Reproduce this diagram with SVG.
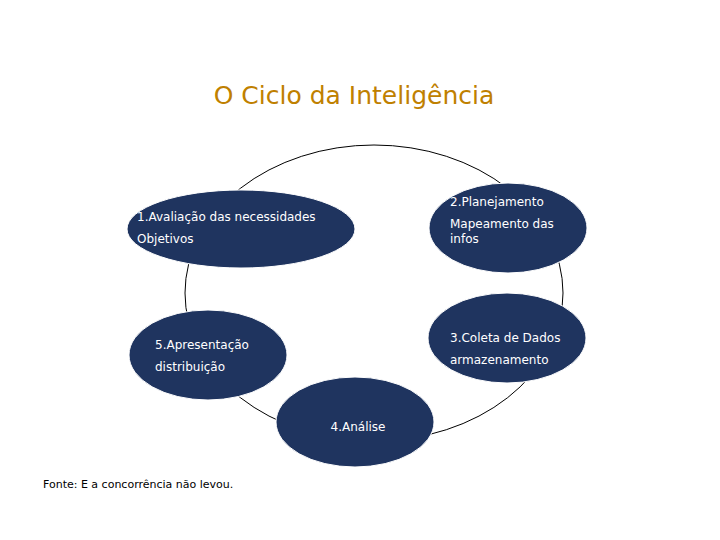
<svg xmlns="http://www.w3.org/2000/svg" width="720" height="540" viewBox="0 0 720 540">
<style>
.n{fill:#1f345f;stroke:#ffffff;stroke-width:1}
.t{font-family:"DejaVu Sans",Verdana,sans-serif;font-size:12px;fill:#ffffff}
</style>
<rect width="720" height="540" fill="#ffffff"/>
<text x="354" y="104" text-anchor="middle" font-family="DejaVu Sans, sans-serif" font-size="25" fill="#bf8000">O Ciclo da Inteligência</text>
<g id="connectors"><ellipse cx="374" cy="293" rx="189" ry="148" fill="none" stroke="#000" stroke-width="1"/></g>
<g id="n1"><ellipse class="n" cx="241" cy="229" rx="114" ry="39"/><text class="t" x="137" y="221">1.Avaliação das necessidades</text><text class="t" x="137" y="243">Objetivos</text></g>
<g id="n2"><ellipse class="n" cx="508" cy="228" rx="79" ry="45"/><text class="t" x="450" y="206">2.Planejamento</text><text class="t" x="450" y="228">Mapeamento das</text><text class="t" x="450" y="243">infos</text></g>
<g id="n3"><ellipse class="n" cx="507" cy="338" rx="79" ry="45"/><text class="t" x="450" y="342">3.Coleta de Dados</text><text class="t" x="450" y="364">armazenamento</text></g>
<g id="n5"><ellipse class="n" cx="208" cy="355" rx="79" ry="45"/><text class="t" x="155" y="349">5.Apresentação</text><text class="t" x="155" y="371">distribuição</text></g>
<g id="n4"><ellipse class="n" cx="355" cy="422" rx="79" ry="45"/><text class="t" x="358" y="431" text-anchor="middle">4.Análise</text></g>
<text x="43" y="488" font-family="DejaVu Sans, sans-serif" font-size="11" fill="#000">Fonte: E a concorrência não levou.</text>
</svg>
